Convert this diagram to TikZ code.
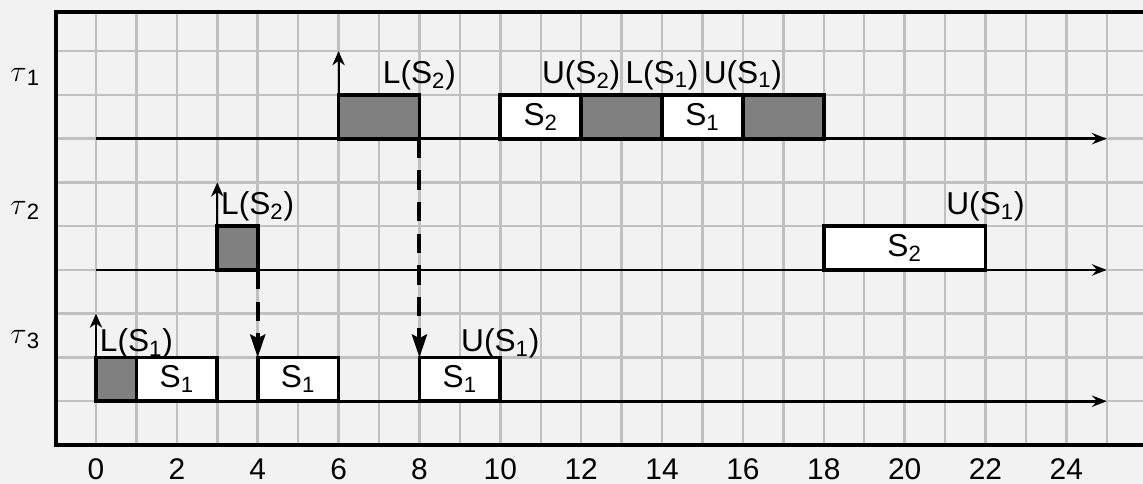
\documentclass[tikz,border=0pt]{standalone}
\usepackage{fontspec}
\setmainfont{Liberation Sans}
\usepackage{tikz}
\usetikzlibrary{arrows.meta,positioning}
\usepackage{xcolor}
\definecolor{paper}{HTML}{F2F2F2}
\definecolor{gridln}{HTML}{C0C0C0}
\definecolor{lockgray}{HTML}{808080}
\newcommand{\lblfont}{\fontsize{18}{21}\selectfont}
\newcommand{\tickfont}{\fontsize{17}{20}\selectfont}
\newcommand{\sub}[1]{\textsubscript{#1}}
\tikzset{
  lockbox/.style={rectangle,draw=black,fill=lockgray,line width=2.1pt,
                  minimum width=#1*0.8086cm,minimum height=0.875cm,
                  inner sep=0pt,outer sep=0pt,anchor=south west},
  secbox/.style={rectangle,draw=black,fill=white,line width=2.1pt,
                 minimum width=#1*0.8086cm,minimum height=0.875cm,
                 inner sep=0pt,outer sep=0pt,anchor=south west,
                 font=\lblfont},
  gridline/.style={gridln,line width=1.4pt},
  frameline/.style={black,line width=2.3pt},
  tlarr/.style={-{Stealth[length=8.5pt,width=6.5pt,inset=3pt]},line width=1.5pt},
  relarr/.style={-{Stealth[length=8pt,width=7pt,inset=2.5pt]},line width=1.2pt},
  deparr/.style={-{Stealth[length=13pt,width=8.5pt,inset=2pt]},line width=2.3pt,
                 dash pattern=on 11pt off 7pt},
  evtlbl/.style={font=\lblfont,inner sep=0pt,anchor=base},
  tasklbl/.style={font=\lblfont,inner sep=0pt},
  ticklbl/.style={font=\tickfont,inner sep=0pt,anchor=base},
}

\begin{document}
\begin{tikzpicture}[x=0.8086cm,y=0.875cm]

  %% ── canvas and grid ──────────────────────────────────────────────────────
  \useasboundingbox (-2.374,-0.891) rectangle (25.896,10.17);
  \clip (-2.374,-0.891) rectangle (25.896,10.17);
  \fill[paper] (-2.374,-0.891) rectangle (25.896,10.17);
  \foreach \t in {-1,...,27} \draw[gridline] (\t,0) -- (\t,9.9);
  \foreach \r in {1,...,9}   \draw[gridline] (-1,\r) -- (27,\r);
  \draw[frameline] (27,9.9) -- (-1,9.9) -- (-1,0) -- (27,0);

  %% ── task labels and time axis ────────────────────────────────────────────
  \node[tasklbl] (tau1) at (-1.75,8.41) {$\tau$\sub{1}};
  \node[tasklbl] (tau2) at (-1.75,5.37) {$\tau$\sub{2}};
  \node[tasklbl] (tau3) at (-1.75,2.40) {$\tau$\sub{3}};
  \foreach \t in {0,2,...,24}
    \node[ticklbl] (tick\t) at (\t,-0.80) {\t};

  %% ── timelines ────────────────────────────────────────────────────────────
  \foreach \r/\y in {1/7,2/4,3/1} {
    \coordinate (ax\r s) at (0,\y);
    \coordinate (ax\r e) at (25,\y);
    \draw[tlarr] (ax\r s) -- (ax\r e);
  }

  %% ── tau_1 ────────────────────────────────────────────────────────────────
  \node[lockbox=2] (lk1a) at (6,7)  {};
  \node[secbox=2]  (s1a)  at (10,7) {S\sub{2}};
  \node[lockbox=2] (lk1b) at (12,7) {};
  \node[secbox=2]  (s1b)  at (14,7) {S\sub{1}};
  \node[lockbox=2] (lk1c) at (16,7) {};
  \coordinate (rel1) at (6,9);
  \draw[relarr] (lk1a.south west) -- (rel1);
  \node[evtlbl] (e1a) at (8,8.27)  {L(S\sub{2})};
  \node[evtlbl] (e1b) at (12,8.27) {U(S\sub{2})};
  \node[evtlbl] (e1c) at (14,8.27) {L(S\sub{1})};
  \node[evtlbl] (e1d) at (16,8.27) {U(S\sub{1})};

  %% ── tau_2 ────────────────────────────────────────────────────────────────
  \node[lockbox=1] (lk2a) at (3,4)  {};
  \node[secbox=4]  (s2a)  at (18,4) {S\sub{2}};
  \coordinate (rel2) at (3,6);
  \draw[relarr] (lk2a.south west) -- (rel2);
  \node[evtlbl] (e2a) at (4,5.26)  {L(S\sub{2})};
  \node[evtlbl] (e2b) at (22,5.26) {U(S\sub{1})};

  %% ── tau_3 ────────────────────────────────────────────────────────────────
  \node[lockbox=1] (lk3a) at (0,1) {};
  \node[secbox=2]  (s3a)  at (1,1) {S\sub{1}};
  \node[secbox=2]  (s3b)  at (4,1) {S\sub{1}};
  \node[secbox=2]  (s3c)  at (8,1) {S\sub{1}};
  \coordinate (rel3) at (0,3);
  \draw[relarr] (lk3a.south west) -- (rel3);
  \node[evtlbl] (e3a) at (1,2.13)  {L(S\sub{1})};
  \node[evtlbl] (e3b) at (10,2.13) {U(S\sub{1})};

  %% ── blocking ─────────────────────────────────────────────────────────────
  \draw[deparr] (lk1a.south east) -- (s3c.north west);
  \draw[deparr] (lk2a.south east) -- (s3b.north west);

\end{tikzpicture}
\end{document}
